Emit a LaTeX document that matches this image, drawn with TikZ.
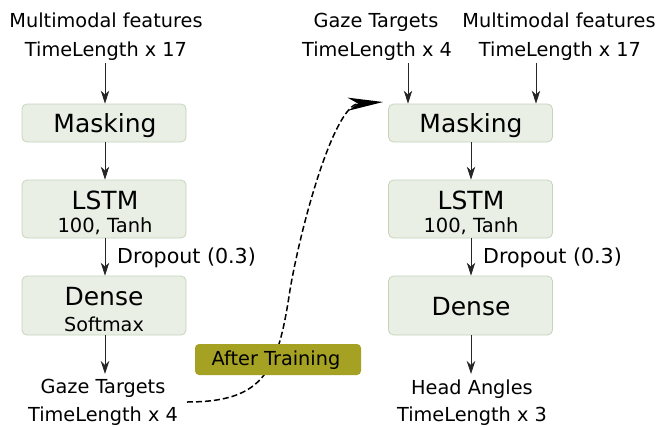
\documentclass[tikz,border=0pt]{standalone}
\usepackage{fontspec}
\setmainfont{DejaVu Sans}
\usetikzlibrary{arrows.meta}
\definecolor{boxfill}{RGB}{233,239,229}
\definecolor{boxline}{RGB}{196,213,186}
\definecolor{olive}{RGB}{165,161,35}
\tikzset{
  layer/.style={draw=boxline, fill=boxfill, line width=0.8pt, rounded corners=5pt, minimum width=164pt, inner sep=0pt},
  txt/.style={inner sep=0pt, anchor=base, font=\fontsize{19.3}{21}\selectfont},
  big/.style={inner sep=0pt, anchor=base, font=\fontsize{25}{28}\selectfont},
  drop/.style={inner sep=0pt, anchor=base west, font=\fontsize{20.6}{22}\selectfont},
  arr/.style={draw=black!85, line width=0.9pt, -{Stealth[length=13pt,width=8.5pt,inset=4pt]}},
  trainbox/.style={fill=olive, rounded corners=4pt, minimum width=166pt, minimum height=31pt, inner sep=0pt},
}
\begin{document}
\begin{tikzpicture}[x=1pt,y=-1pt]
\useasboundingbox (0,0) rectangle (659,426);
% ---------- left network ----------
\node[txt] (in1a) at (106,27) {Multimodal features};
\node[txt] (in1b) at (106,56) {TimeLength x 17};
\node[layer, minimum height=38pt] (mask1) at (104,123) {};
\node[big] (mask1t) at (105,132) {Masking};
\node[layer, minimum height=58pt] (lstm1) at (104,209) {};
\node[big] (lstm1t) at (105,209) {LSTM};
\node[txt, font=\fontsize{19.5}{21}\selectfont] (lstm1s) at (105,232) {100, Tanh};
\node[layer, minimum height=59pt] (dense1) at (104,305.5) {};
\node[big] (dense1t) at (104,305) {Dense};
\node[txt, font=\fontsize{19.2}{21}\selectfont] (dense1s) at (104,331) {Softmax};
\node[drop] (drop1) at (117,263) {Dropout (0.3)};
\node[txt] (out1a) at (103,393) {Gaze Targets};
\node[txt] (out1b) at (103,421) {TimeLength x 4};
\coordinate (l0) at (105,63);
\coordinate (l4) at (105,374);
\draw[arr] (l0) -- (l0 |- mask1.north);
\draw[arr] (mask1.south -| l0) -- (lstm1.north -| l0);
\draw[arr] (lstm1.south -| l0) -- (dense1.north -| l0);
\draw[arr] (dense1.south -| l0) -- (l4);
% ---------- right network ----------
\node[txt] (in2a) at (376,27) {Gaze Targets};
\node[txt] (in2b) at (377,56) {TimeLength x 4};
\node[txt] (in3a) at (559,27) {Multimodal features};
\node[txt] (in3b) at (560,56) {TimeLength x 17};
\node[layer, minimum height=38pt] (mask2) at (470.5,123) {};
\node[big] (mask2t) at (471,132) {Masking};
\node[layer, minimum height=58pt] (lstm2) at (470.5,209) {};
\node[big] (lstm2t) at (471,209) {LSTM};
\node[txt, font=\fontsize{19.5}{21}\selectfont] (lstm2s) at (471,232) {100, Tanh};
\node[layer, minimum height=59pt] (dense2) at (470.5,305.5) {};
\node[big] (dense2t) at (471,315) {Dense};
\node[drop] (drop2) at (483,263) {Dropout (0.3)};
\node[txt] (out2a) at (472,394) {Head Angles};
\node[txt] (out2b) at (472,421) {TimeLength x 3};
\coordinate (ra) at (408,63);
\coordinate (rb) at (536,63);
\coordinate (r0) at (471,0);
\coordinate (r4) at (471,374);
\draw[arr] (ra) -- (ra |- mask2.north);
\draw[arr] (rb) -- (rb |- mask2.north);
\draw[arr] (mask2.south -| r0) -- (lstm2.north -| r0);
\draw[arr] (lstm2.south -| r0) -- (dense2.north -| r0);
\draw[arr] (dense2.south -| r0) -- (r4);
% ---------- after training ----------
\coordinate (cs) at (187,402);
\coordinate (cm) at (290,290);
\coordinate (tip) at (383,102);
\draw[line width=1.5pt, dash pattern=on 6pt off 3pt, -{Stealth[length=35pt,width=13pt,inset=10pt]}]
  (cs) .. controls (265,402) and (278,370) .. (cm)
       .. controls (301,225) and (334,105) .. (tip);
\node[trainbox] (train) at (278,359.5) {};
\node[txt] (traint) at (276,365) {After Training};
\end{tikzpicture}
\end{document}
